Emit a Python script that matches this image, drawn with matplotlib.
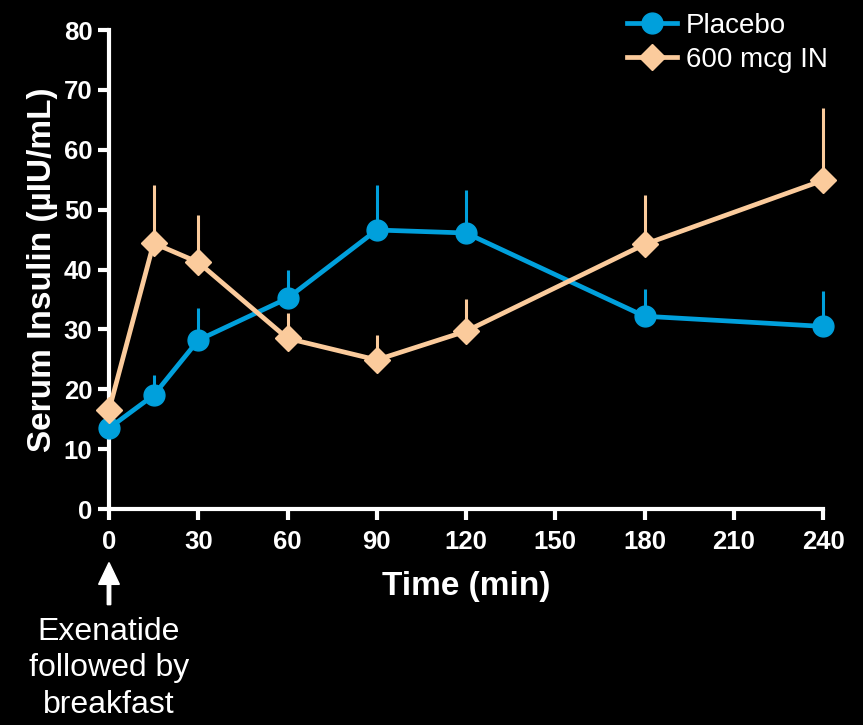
import matplotlib
matplotlib.use('Agg')
import matplotlib.pyplot as plt

plt.rcParams['font.family'] = ['Liberation Sans', 'DejaVu Sans']

# sampling times (min) and serum insulin, mean with upper SEM
times = [0, 15, 30, 60, 90, 120, 180, 240]
placebo_mean = [13.5, 19.0, 28.2, 35.2, 46.6, 46.1, 32.2, 30.5]
placebo_sem = [0.8, 3.4, 5.3, 4.7, 7.5, 7.2, 4.5, 5.9]
in600_mean = [16.5, 44.4, 41.2, 28.5, 24.9, 29.7, 44.2, 54.9]
in600_sem = [0.6, 9.7, 7.9, 4.2, 4.1, 5.4, 8.2, 12.0]

xticks = [0, 30, 60, 90, 120, 150, 180, 210, 240]
yticks = [0, 10, 20, 30, 40, 50, 60, 70, 80]

blue = '#00a0dc'
peach = '#fbcb9c'

fig = plt.figure(figsize=(8.63, 7.25), dpi=100, facecolor='black')
ax = fig.add_axes([0.1263, 0.2979, 0.8274, 0.6607], facecolor='black')

# upper-only error bars, then the lines with markers on top
zeros = [0] * len(times)
ax.errorbar(times, placebo_mean, yerr=[zeros, placebo_sem], fmt='none',
            ecolor=blue, elinewidth=2.2, capsize=0, clip_on=False, zorder=2)
ax.errorbar(times, in600_mean, yerr=[zeros, in600_sem], fmt='none',
            ecolor=peach, elinewidth=2.2, capsize=0, clip_on=False, zorder=2)
ax.plot(times, placebo_mean, color=blue, lw=3.4, marker='o', ms=15,
        clip_on=False, zorder=3, label='Placebo')
ax.plot(times, in600_mean, color=peach, lw=3.4, marker='D', ms=13,
        clip_on=False, zorder=3, label='600 mcg IN')

ax.set_xlim(0, 240)
ax.set_ylim(0, 80)
ax.set_xticks(xticks)
ax.set_yticks(yticks)

for side in ['top', 'right']:
    ax.spines[side].set_visible(False)
for side in ['left', 'bottom']:
    ax.spines[side].set_color('white')
    ax.spines[side].set_linewidth(3)
    ax.spines[side].set_zorder(1)

ax.tick_params(colors='white', width=3, length=8, labelsize=18.5, pad=4)
ax.tick_params(axis='x', pad=7)
for lab in ax.get_xticklabels() + ax.get_yticklabels():
    lab.set_fontweight('bold')

ax.set_xlabel('Time (min)', color='white', fontsize=24, fontweight='bold', labelpad=12)
ax.set_ylabel('Serum Insulin (\u00b5IU/mL)', color='white', fontsize=24,
              fontweight='bold', labelpad=4)

fig.legend(loc='upper left', bbox_to_anchor=(0.697, 1.017), frameon=False,
           fontsize=20, handlelength=1.8, handletextpad=0.35,
           labelspacing=0.3, labelcolor='white')

# dosing arrow under time zero
fig.patches.append(matplotlib.patches.FancyArrow(
    0.1263, 0.166, 0, 0.058, width=0.004, head_width=0.024, head_length=0.03,
    length_includes_head=True, color='white', transform=fig.transFigure))
fig.text(0.1263, 0.078, 'Exenatide\nfollowed by\nbreakfast', color='white',
         fontsize=23, ha='center', va='center', linespacing=1.28)

fig.savefig('out.png', dpi=100, facecolor='black')
